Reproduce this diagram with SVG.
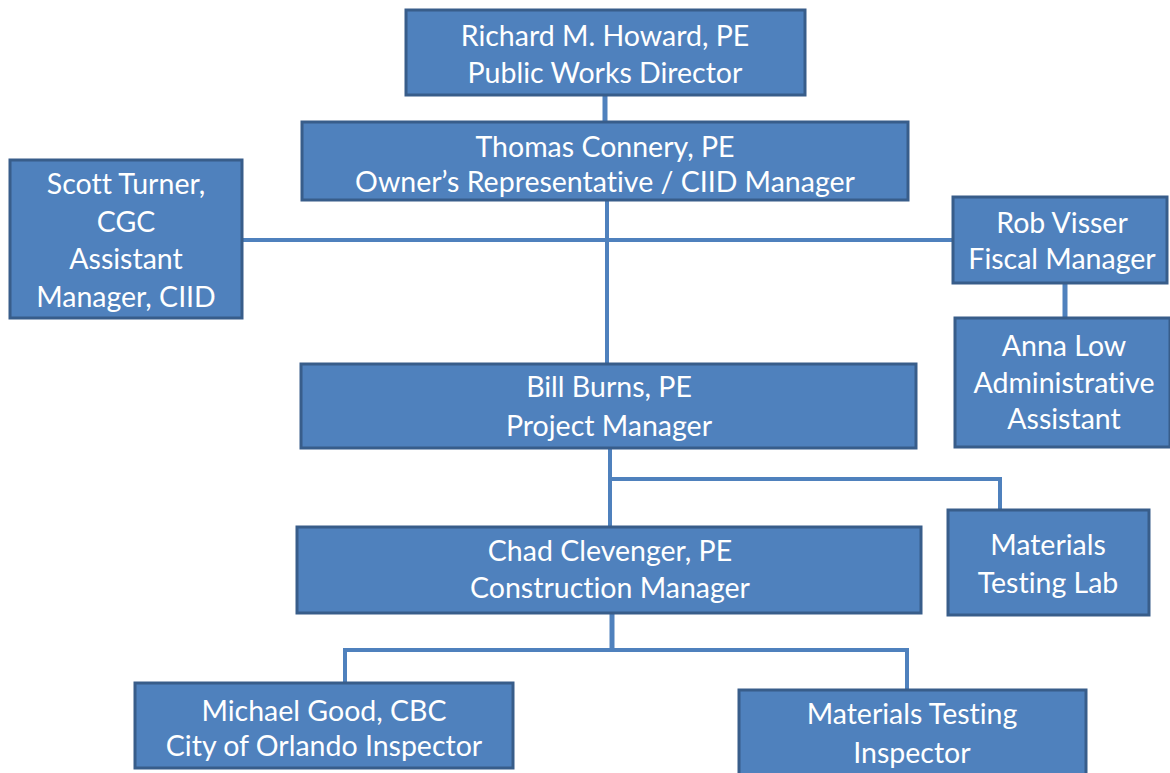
<svg xmlns="http://www.w3.org/2000/svg" width="1170" height="773" viewBox="0 0 1170 773">
<style>
.box{fill:#4F81BD;stroke:#385D8A;stroke-width:3}
.t{font-family:Lato,"Open Sans","Liberation Sans",sans-serif;font-size:28.5px;fill:#FFFFFF;text-anchor:middle;font-variant-ligatures:none}
.c{stroke:#4F81BD;fill:none}
</style>
<rect width="1170" height="773" fill="#FFFFFF"/>
<g id="connectors">
<line class="c" x1="605" y1="95" x2="605" y2="122" stroke-width="5"/>
<line class="c" x1="607" y1="200" x2="607" y2="364" stroke-width="4"/>
<line class="c" x1="242" y1="240" x2="953" y2="240" stroke-width="4"/>
<line class="c" x1="1065" y1="283" x2="1065" y2="318" stroke-width="5"/>
<line class="c" x1="610" y1="448" x2="610" y2="527" stroke-width="4"/>
<polyline class="c" points="610,479 1000,479 1000,510" stroke-width="4"/>
<line class="c" x1="612" y1="613" x2="612" y2="650" stroke-width="5"/>
<polyline class="c" points="345,683 345,650 907,650 907,690" stroke-width="4"/>
</g>
<g id="n-richard">
<rect class="box" x="406" y="10" width="399" height="85"/>
<text class="t" x="605" y="46">Richard M. Howard, PE</text>
<text class="t" x="605" y="83">Public Works Director</text>
</g>
<g id="n-thomas">
<rect class="box" x="302" y="122" width="606" height="78"/>
<text class="t" x="605" y="157">Thomas Connery, PE</text>
<text class="t" x="605" y="192">Owner’s Representative / CIID Manager</text>
</g>
<g id="n-scott">
<rect class="box" x="10" y="160" width="232" height="158"/>
<text class="t" x="126" y="194">Scott Turner,</text>
<text class="t" x="126" y="232">CGC</text>
<text class="t" x="126" y="269">Assistant</text>
<text class="t" x="126" y="307">Manager, CIID</text>
</g>
<g id="n-rob">
<rect class="box" x="953" y="197" width="214" height="86"/>
<text class="t" x="1062" y="233">Rob Visser</text>
<text class="t" x="1062" y="269">Fiscal Manager</text>
</g>
<g id="n-anna">
<rect class="box" x="955" y="318" width="215" height="129"/>
<text class="t" x="1064" y="356">Anna Low</text>
<text class="t" x="1064" y="393">Administrative</text>
<text class="t" x="1064" y="429">Assistant</text>
</g>
<g id="n-bill">
<rect class="box" x="301" y="364" width="615" height="84"/>
<text class="t" x="609" y="397">Bill Burns, PE</text>
<text class="t" x="609" y="436">Project Manager</text>
</g>
<g id="n-chad">
<rect class="box" x="297" y="527" width="624" height="86"/>
<text class="t" x="610" y="561">Chad Clevenger, PE</text>
<text class="t" x="610" y="598">Construction Manager</text>
</g>
<g id="n-lab">
<rect class="box" x="948" y="510" width="201" height="105"/>
<text class="t" x="1048" y="555">Materials</text>
<text class="t" x="1048" y="593">Testing Lab</text>
</g>
<g id="n-michael">
<rect class="box" x="135" y="683" width="378" height="85"/>
<text class="t" x="324" y="721">Michael Good, CBC</text>
<text class="t" x="324" y="756">City of Orlando Inspector</text>
</g>
<g id="n-inspector">
<rect class="box" x="739" y="690" width="347" height="90"/>
<text class="t" x="912" y="724">Materials Testing</text>
<text class="t" x="912" y="763">Inspector</text>
</g>
</svg>
